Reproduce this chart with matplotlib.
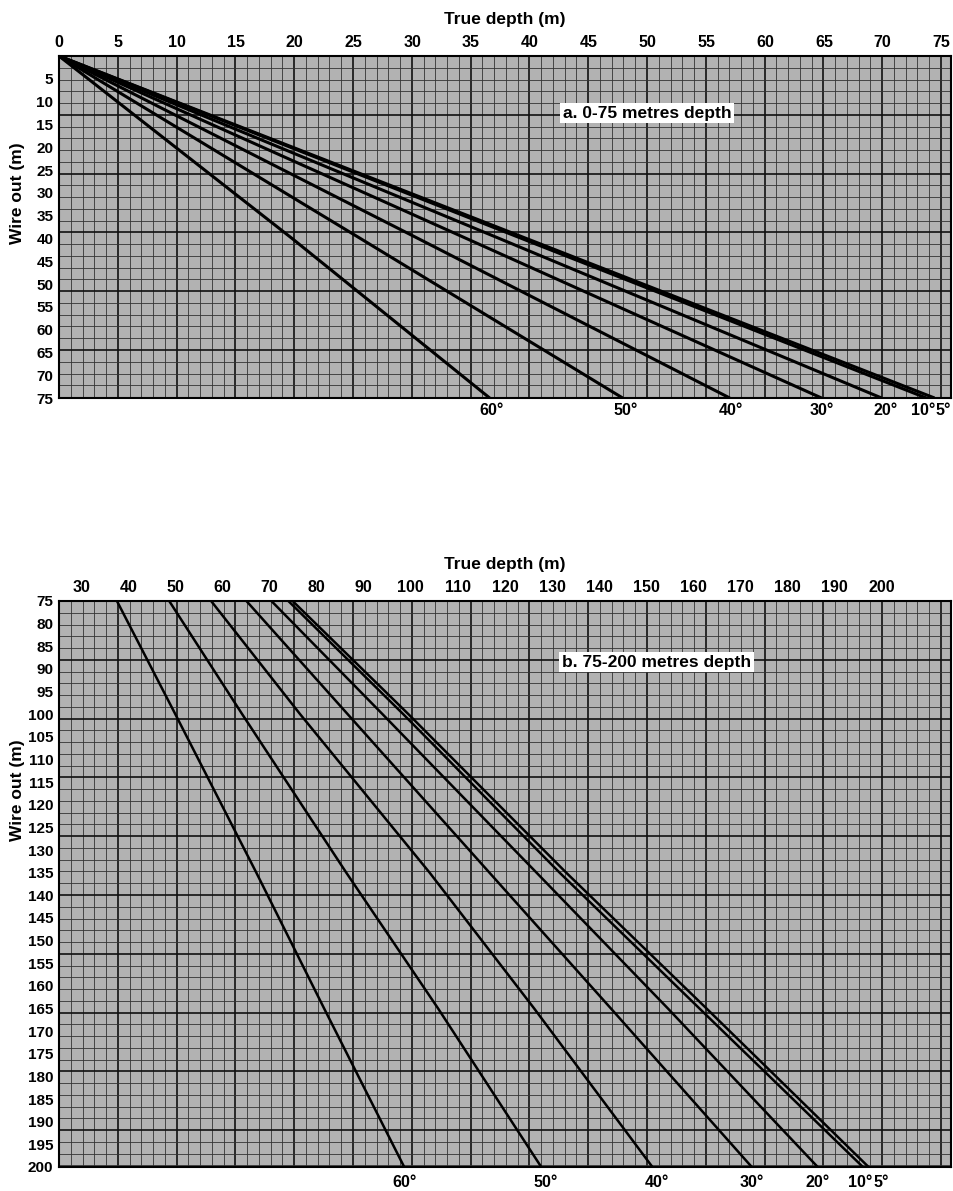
import numpy as np
import matplotlib.pyplot as plt
from matplotlib.ticker import MultipleLocator

plt.rcParams['font.family'] = ['Liberation Sans', 'DejaVu Sans']
plt.rcParams['font.weight'] = 'bold'

angles = [60, 50, 40, 30, 20, 10, 5]

# a. 0-75 metres: wire out (m) vs true depth (m) for each wire angle
wire_a = [0, 40, 75]
depth_a = [
    [0, 19.8, 36.6],
    [0, 25.6, 47.9],
    [0, 30.5, 57.0],
    [0, 34.6, 64.8],
    [0, 37.4, 69.9],
    [0, 39.3, 73.7],
    [0, 39.7, 74.4],
]
xticks_a = list(range(0, 80, 5))
yticks_a = list(range(5, 80, 5))

# b. 75-200 metres
wire_b = [75, 100, 135, 165, 200]
depth_b = [
    [37.6, 50.0, 67.2, 81.6, 98.6],
    [48.7, 64.2, 86.3, 105.8, 127.7],
    [57.6, 76.5, 104.0, 126.2, 151.3],
    [65.1, 86.6, 116.7, 142.5, 172.4],
    [70.4, 94.0, 126.7, 154.6, 186.4],
    [74.0, 98.4, 131.6, 161.3, 196.0],
    [74.9, 99.5, 133.0, 162.8, 197.2],
]
xticks_b = list(range(30, 210, 10))
yticks_b = list(range(75, 205, 5))

W, H = 954, 1191
fig = plt.figure(figsize=(W / 100, H / 100), dpi=100)


def px_rect(l, t, r, b):
    return [l / W, 1 - b / H, (r - l) / W, (b - t) / H]


def paper(rect):
    # scanned graph paper look: square cells, heavier every 5th line
    bg = fig.add_axes(rect, zorder=0)
    wpx, hpx = rect[2] * W, rect[3] * H
    bg.set_xlim(0, wpx)
    bg.set_ylim(hpx, 0)
    bg.set_facecolor('#b2b2b2')
    for a in (bg.xaxis, bg.yaxis):
        a.set_major_locator(MultipleLocator(58.8))
        a.set_minor_locator(MultipleLocator(11.76))
    bg.grid(which='major', color='#111111', lw=1.2)
    bg.grid(which='minor', color='#333333', lw=0.6)
    bg.tick_params(which='both', length=0, labelbottom=False, labelleft=False)
    for s in bg.spines.values():
        s.set_visible(False)
    ax = fig.add_axes(rect, zorder=1)
    ax.set_facecolor('none')
    for s in ax.spines.values():
        s.set_linewidth(1.5)
    return ax


def setup(ax, xlim, ylim, xticks, yticks):
    ax.set_xlim(*xlim)
    ax.set_ylim(*ylim)
    ax.xaxis.tick_top()
    ax.xaxis.set_label_position('top')
    ax.set_xticks(xticks)
    ax.set_yticks(yticks)
    ax.tick_params(axis='x', length=0, labelsize=11.5, pad=4)
    ax.tick_params(axis='y', length=0, labelsize=11, pad=4)
    ax.set_xlabel('True depth (m)', fontsize=12.5, fontweight='bold', labelpad=8)
    ax.set_ylabel('Wire out (m)', fontsize=12.5, fontweight='bold')


# top panel
ax1 = paper(px_rect(59, 56, 951, 398))
setup(ax1, (0, 75.8), (75, 0), xticks_a, yticks_a)
ax1.yaxis.set_label_coords(-0.038, 0.60)
for d in depth_a:
    ax1.plot(d, wire_a, color='black', lw=2.2, solid_capstyle='butt')
dx_a = [1, 2, 1, 0, 3, -2, 6]
for a, d, dx in zip(angles, depth_a, dx_a):
    ax1.annotate(f'{a}°', xy=(d[-1], 0), xycoords=('data', 'axes fraction'),
                 xytext=(dx, -9), textcoords='offset points',
                 ha='center', va='center', fontsize=11.5)
ax1.text(0.659, 0.833, 'a. 0-75 metres depth', transform=ax1.transAxes,
         ha='center', va='center', fontsize=12.5,
         bbox=dict(fc='white', ec='none', pad=2))

# bottom panel
ax2 = paper(px_rect(59, 601, 951, 1167))
setup(ax2, (25.3, 214.7), (200, 75), xticks_b, yticks_b)
ax2.yaxis.set_label_coords(-0.038, 0.666)
for d in depth_b:
    ax2.plot(d, wire_b, color='black', lw=1.8)
dx_b = [0, 3, 3, 0, 0, -2, 9]
for a, d, dx in zip(angles, depth_b, dx_b):
    ax2.annotate(f'{a}°', xy=(d[-1], 0), xycoords=('data', 'axes fraction'),
                 xytext=(dx, -11), textcoords='offset points',
                 ha='center', va='center', fontsize=11.5)
ax2.text(0.670, 0.892, 'b. 75-200 metres depth', transform=ax2.transAxes,
         ha='center', va='center', fontsize=12.5,
         bbox=dict(fc='white', ec='none', pad=2))

fig.savefig('out.png', dpi=100)
